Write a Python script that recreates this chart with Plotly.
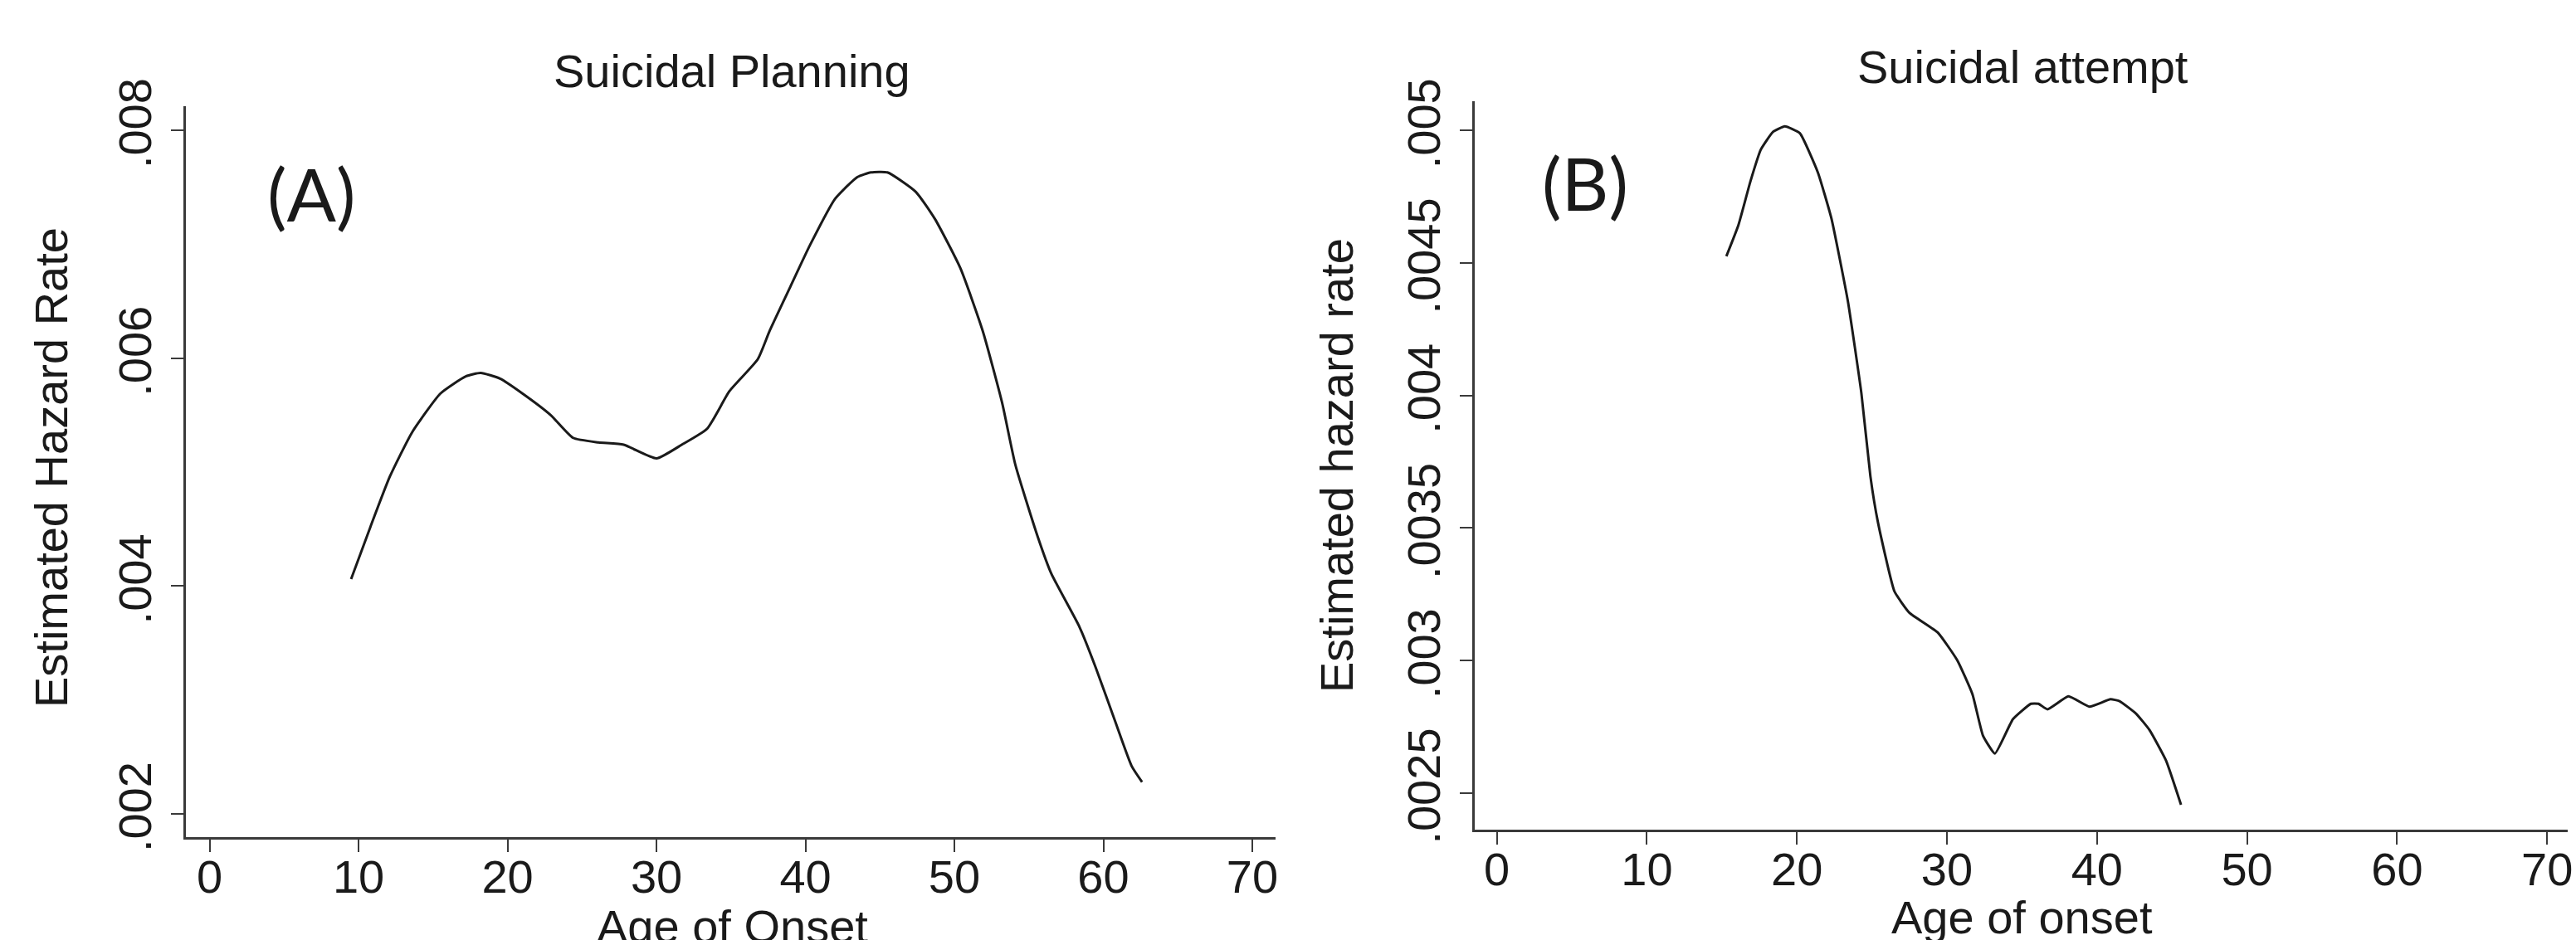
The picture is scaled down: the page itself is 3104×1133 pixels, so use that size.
import plotly.graph_objects as go

# ---- data ----
age_planning = [9.5, 10.8, 12.1, 13.6, 15.5, 17.2, 18.2, 19.5, 21.0, 22.9, 24.4, 26.1, 27.8,
                30.0, 31.7, 33.4, 34.9, 36.8, 37.6, 39.0, 40.3, 42.0, 43.5, 44.4, 45.5, 47.4,
                48.7, 50.4, 51.9, 53.2, 54.1, 55.6, 56.5, 58.4, 59.5, 60.8, 61.9, 62.6]
hazard_planning = [0.00406, 0.00452, 0.00496, 0.00535, 0.00569, 0.00584, 0.00587, 0.00582,
                   0.00569, 0.00550, 0.00530, 0.00526, 0.00524, 0.00512, 0.00524, 0.00538,
                   0.00571, 0.00599, 0.00624, 0.00663, 0.00699, 0.00740, 0.00759, 0.00763,
                   0.00763, 0.00746, 0.00722, 0.00679, 0.00624, 0.00561, 0.00506, 0.00443,
                   0.00411, 0.00364, 0.00328, 0.00281, 0.00242, 0.00228]

age_attempt = [15.3, 16.1, 16.9, 17.6, 18.4, 19.2, 20.2, 21.4, 22.3, 23.4, 24.3, 24.9, 25.4,
               26.5, 27.5, 29.4, 30.7, 31.7, 32.4, 33.2, 34.4, 35.6, 36.1, 36.7, 38.1, 39.5,
               40.9, 41.5, 42.6, 43.5, 44.6, 45.6]
hazard_attempt = [0.004525, 0.004642, 0.004807, 0.004928, 0.004994, 0.005015, 0.004989,
                  0.004841, 0.004668, 0.004355, 0.004008, 0.003695, 0.003522, 0.003261,
                  0.003180, 0.003105, 0.003000, 0.002873, 0.002717, 0.002649, 0.002779,
                  0.002837, 0.002837, 0.002816, 0.002865, 0.002826, 0.002854, 0.002847,
                  0.002800, 0.002738, 0.002623, 0.002456]

x_ticks = [0, 10, 20, 30, 40, 50, 60, 70]
x_tick_labels = ["0", "10", "20", "30", "40", "50", "60", "70"]
y_ticks_a = [0.002, 0.004, 0.006, 0.008]
y_tick_labels_a = [".002", ".004", ".006", ".008"]
y_ticks_b = [0.0025, 0.003, 0.0035, 0.004, 0.0045, 0.005]
y_tick_labels_b = [".0025", ".003", ".0035", ".004", ".0045", ".005"]

W, H = 3104, 1133
FONT = "Liberation Sans, Arial, Helvetica, sans-serif"
INK = "#1a1a1a"
AX = "#3a3a3a"
FS = 56

fig = go.Figure()
fig.add_trace(go.Scatter(x=age_planning, y=hazard_planning, mode="lines",
                         line=dict(color=INK, width=3, shape="spline", smoothing=0.5),
                         xaxis="x", yaxis="y", showlegend=False))
fig.add_trace(go.Scatter(x=age_attempt, y=hazard_attempt, mode="lines",
                         line=dict(color=INK, width=3, shape="spline", smoothing=0.4),
                         xaxis="x2", yaxis="y2", showlegend=False))

def xax(domain, rng, anchor):
    return dict(domain=domain, range=rng, anchor=anchor, tickmode="array",
                tickvals=x_ticks, ticktext=x_tick_labels, showgrid=False, zeroline=False,
                showline=True, linecolor=AX, linewidth=3, ticks="outside", ticklen=15,
                tickwidth=2, tickcolor=AX, tickfont=dict(family=FONT, size=FS, color=INK),
                ticklabelstandoff=-18, automargin=False, fixedrange=True)

def yax(domain, rng, anchor, vals, texts):
    return dict(domain=domain, range=rng, anchor=anchor, tickmode="array",
                tickvals=vals, ticktext=texts, tickangle=-90, showgrid=False, zeroline=False,
                showline=True, linecolor=AX, linewidth=3, ticks="outside", ticklen=15,
                tickwidth=2, tickcolor=AX, tickfont=dict(family=FONT, size=FS, color=INK),
                ticklabelstandoff=2, automargin=False, fixedrange=True)

fig.update_layout(
    width=W, height=H,
    margin=dict(l=0, r=0, t=0, b=0),
    paper_bgcolor="white", plot_bgcolor="white",
    xaxis=xax([224 / W, 1537 / W], [-1.59, 71.56], "y"),
    yaxis=yax([1 - 1009 / H, 1 - 128 / H], [0.001796, 0.008211], "x", y_ticks_a, y_tick_labels_a),
    xaxis2=xax([1777 / W, 3094 / W], [-1.47, 71.37], "y2"),
    yaxis2=yax([1 - 1000 / H, 1 - 122 / H], [0.002362, 0.005110], "x2", y_ticks_b, y_tick_labels_b),
)

def ann(text, x, y, size=FS, angle=0, family=FONT):
    fig.add_annotation(text=text, x=x / W, y=1 - y / H, xref="paper", yref="paper",
                       xanchor="center", yanchor="middle", showarrow=False, textangle=angle,
                       font=dict(family=family, size=size, color=INK))

ann("Suicidal Planning", 882, 85)
ann("Suicidal attempt", 2437, 80)
ann("Estimated Hazard Rate", 61, 564, angle=-90)
ann("Estimated hazard rate", 1610, 561, angle=-90)
ann("Age of Onset", 882, 1116)
ann("Age of onset", 2436, 1105)
ann("(A)", 375, 233, size=88, family="Lato, Open Sans, sans-serif")
ann("(B)", 1910, 220, size=88, family="Lato, Open Sans, sans-serif")

fig.write_html("out.html",
               config={"displayModeBar": False},
               post_script="document.body.style.margin='0';document.body.style.overflow='hidden';")
